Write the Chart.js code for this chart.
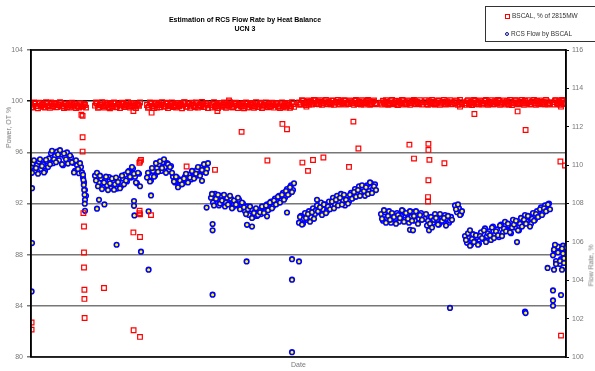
<!DOCTYPE html>
<html lang="en">
<head>
<meta charset="UTF-8">
<title>Estimation of RCS Flow Rate by Heat Balance</title>
<script src="https://cdn.jsdelivr.net/npm/chart.js"></script>
<style>
  body { margin: 0; background: #fff; font-family: "Liberation Sans", Arial, sans-serif; }
  #wrap { position: relative; width: 595px; height: 371px; overflow: hidden; }
  #title { position: absolute; left: 145px; top: 15px; width: 200px; text-align: center;
           font-size: 7px; font-weight: bold; line-height: 9px; color: #000; }
  #legend { position: absolute; left: 485px; top: 6px; width: 120px; height: 34px;
            border: 1px solid #333; font-size: 6.5px; color: #333; }
  .item { position: absolute; left: 19px; white-space: nowrap; }
  .sq { display: inline-block; width: 3px; height: 3px; border: 1px solid #f00; vertical-align: middle; margin-right: 2px; }
  .dot { display: inline-block; width: 2px; height: 2px; border: 1px solid #00f; border-radius: 50%;
         background: #ff0; vertical-align: middle; margin-right: 2px; }
  .axt { position: absolute; font-size: 7px; color: #777; white-space: nowrap; }
</style>
</head>
<body>
<div id="wrap">
  <canvas id="flowChart" width="595" height="371"></canvas>
  <div id="title">Estimation of RCS Flow Rate by Heat Balance<br>UCN 3</div>
  <div id="legend">
    <div class="item" style="top:5px"><span class="sq"></span>BSCAL, % of 2815MW</div>
    <div class="item" style="top:23px"><span class="dot"></span>RCS Flow by BSCAL</div>
  </div>
  <div class="axt" style="left:-12px; top:124px; transform: rotate(-90deg);">Power, OT %</div>
  <div class="axt" style="left:570px; top:262px; transform: rotate(-90deg);">Flow Rate, %</div>
  <div class="axt" style="left:291px; top:361px;">Date</div>
</div>

<script>
// each run = consecutive days of plant operation, starting at runStart[i]
// two readings a day: "A" at the day, "B" half a day later
const runStart = [0, 32, 58, 90, 134, 175, 197, 212, 217, 261];

// BSCAL thermal power, % of 2815MW (left axis)
const bscalRunsA = [
  [99.72, 99.55, 99.8, 99.63, 99.88, 99.58, 99.75, 99.5, 99.82, 99.67, 99.9, 99.6, 99.78, 99.53, 99.7, 99.85, 99.62, 99.76, 99.52, 99.83, 99.68, 99.58, 99.8, 99.65, 99.5, 99.74, 99.6, 99.7],
  [99.65, 99.82, 99.55, 99.74, 99.6, 99.88, 99.7, 99.52, 99.78, 99.63, 99.85, 99.57, 99.72, 99.66, 99.8, 99.54, 99.75, 99.62, 99.86, 99.68, 99.58, 99.77, 99.64],
  [99.7, 99.55, 99.82, 99.6, 99.76, 99.5, 99.85, 99.67, 99.73, 99.58, 99.88, 99.62, 99.78, 99.54, 99.7, 99.84, 99.6, 99.75, 99.66, 99.9, 99.57, 99.8, 99.64, 99.72, 99.52, 99.86, 99.69, 99.6, 99.78, 99.65, 99.74],
  [99.68, 99.8, 99.56, 99.74, 99.62, 99.87, 99.7, 99.58, 99.83, 99.65, 99.76, 99.52, 99.8, 99.67, 99.72, 99.6, 99.85, 99.63, 99.78, 99.55, 99.7, 99.82, 99.6, 99.75, 99.66, 99.88, 99.58, 99.73, 99.64, 99.8, 99.57, 99.77, 99.68, 99.84, 99.61, 99.74, 99.56, 99.8, 99.66, 99.72, 99.6, 99.78],
  [99.9, 99.78, 100.02, 99.85, 99.95, 99.74, 99.98, 99.82, 100.05, 99.88, 99.76, 99.96, 99.84, 100.0, 99.8, 99.93, 99.75, 100.03, 99.87, 99.92, 99.79, 99.99, 99.83, 100.04, 99.89, 99.77, 99.97, 99.86, 100.01, 99.81, 99.94, 99.73, 99.98, 99.85, 100.02, 99.9, 99.78, 99.96, 99.84],
  [99.88, 100.03, 99.8, 99.95, 99.76, 100.0, 99.86, 99.92, 99.74, 99.98, 99.83, 100.05, 99.9, 99.79, 99.97, 99.85, 100.01, 99.82, 99.94, 99.77, 99.9],
  [99.92, 99.78, 100.0, 99.85, 99.96, 99.74, 99.9, 100.03, 99.82, 99.95, 99.8, 99.98, 99.87, 99.93],
  [99.85, 99.98, 99.8, 99.92],
  [99.86, 100.0, 99.78, 99.93, 99.82, 100.04, 99.9, 99.75, 99.97, 99.84, 100.01, 99.8, 99.94, 99.88, 99.76, 99.99, 99.85, 100.03, 99.79, 99.92, 99.87, 100.0, 99.74, 99.95, 99.83, 100.05, 99.89, 99.78, 99.96, 99.82, 100.02, 99.86, 99.91, 99.77, 99.98, 99.84, 100.01, 99.8, 99.94, 99.88, 99.75, 99.97, 99.85],
  [99.92, 100.05, 99.82, 99.98, 99.87, 100.02, 99.9]
];
const bscalRunsB = [
  [99.5, 99.9, 99.62, 99.45, 99.84, 99.7, 99.55, 99.92, 99.6, 99.48, 99.78, 99.86, 99.52, 99.68, 99.93, 99.57, 99.47, 99.8, 99.66, 99.5, 99.89, 99.74, 99.46, 99.6, 99.85, 99.55, 99.8, 99.5],
  [99.9, 99.48, 99.7, 99.92, 99.5, 99.66, 99.86, 99.45, 99.6, 99.9, 99.52, 99.8, 99.47, 99.88, 99.58, 99.7, 99.93, 99.5, 99.62, 99.85, 99.46, 99.72, 99.9],
  [99.48, 99.9, 99.64, 99.46, 99.88, 99.7, 99.52, 99.92, 99.58, 99.8, 99.47, 99.68, 99.9, 99.6, 99.5, 99.86, 99.72, 99.45, 99.92, 99.56, 99.78, 99.48, 99.88, 99.62, 99.9, 99.5, 99.7, 99.94, 99.53, 99.84, 99.47],
  [99.5, 99.92, 99.62, 99.46, 99.86, 99.55, 99.9, 99.48, 99.7, 99.93, 99.52, 99.64, 99.88, 99.47, 99.8, 99.58, 99.45, 99.9, 99.5, 99.86, 99.6, 99.48, 99.92, 99.54, 99.82, 99.46, 99.7, 99.9, 99.52, 99.62, 99.88, 99.49, 99.84, 99.56, 99.46, 99.9, 99.62, 99.5, 99.86, 99.48, 99.92, 99.55],
  [99.72, 100.08, 99.8, 99.7, 100.06, 99.9, 99.74, 100.1, 99.78, 99.98, 100.07, 99.72, 99.9, 100.09, 99.76, 99.84, 100.06, 99.71, 99.96, 100.1, 99.74, 99.88, 100.08, 99.73, 99.8, 100.06, 99.9, 99.72, 100.09, 99.78, 99.86, 100.07, 99.74, 99.92, 100.1, 99.71, 99.82, 100.06, 99.76],
  [99.74, 99.9, 100.08, 99.72, 99.86, 100.1, 99.76, 100.04, 99.7, 99.88, 100.09, 99.74, 99.8, 100.06, 99.72, 99.94, 100.1, 99.75, 99.84, 100.07, 99.73],
  [100.08, 99.72, 99.88, 100.1, 99.75, 99.84, 100.06, 99.71, 99.9, 100.09, 99.74, 99.82, 100.07, 99.76],
  [100.06, 99.72, 100.09, 99.75],
  [99.72, 100.08, 99.84, 99.7, 100.1, 99.76, 99.9, 100.06, 99.73, 99.86, 100.09, 99.71, 99.82, 100.07, 99.75, 99.92, 100.1, 99.72, 99.88, 100.06, 99.74, 99.8, 100.09, 99.7, 99.9, 100.08, 99.76, 99.84, 100.1, 99.72, 99.86, 100.07, 99.74, 99.94, 100.09, 99.71, 99.82, 100.06, 99.76, 99.9, 100.1, 99.73, 99.8],
  [99.74, 100.08, 99.8, 99.72, 100.1, 99.78, 99.86]
];

// RCS flow by BSCAL, % (right axis)
const flowRunsA = [
  [109.9, 110.1, 109.72, 110.0, 110.18, 109.8, 110.05, 109.7, 110.2, 110.35, 110.62, 110.1, 110.48, 110.7, 110.25, 110.55, 110.0, 110.42, 110.66, 110.18, 110.4, 110.12, 109.7, 110.0, 109.58, 109.9, 109.35, 108.7],
  [109.45, 109.6, 109.1, 109.3, 108.85, 109.2, 108.95, 109.38, 108.8, 109.15, 109.0, 108.78, 109.25, 108.9, 109.3, 109.5, 109.15, 109.7, 109.35, 109.82, 109.4, 109.05, 109.55],
  [109.35, 109.6, 109.2, 109.7, 109.45, 109.85, 110.05, 109.7, 110.15, 109.9, 110.1, 109.75, 109.95, 109.4, 109.1, 109.35, 108.95, 109.25, 109.05, 109.4, 109.15, 109.5, 109.25, 109.62, 109.38, 109.75, 109.5, 109.88, 109.65, 110.0, 109.8],
  [108.3, 108.05, 108.5, 108.2, 107.9, 108.4, 108.1, 107.85, 108.3, 108.0, 108.25, 107.8, 108.1, 107.9, 108.2, 107.75, 108.0, 107.6, 107.85, 107.4, 107.7, 107.3, 107.55, 107.35, 107.65, 107.45, 107.8, 107.6, 107.95, 107.7, 108.1, 107.85, 108.25, 108.0, 108.4, 108.15, 108.55, 108.3, 108.75, 108.5, 108.95, 108.7],
  [107.0, 107.35, 106.95, 107.5, 107.15, 107.6, 107.3, 107.75, 107.45, 107.9, 107.55, 108.05, 107.7, 107.95, 107.6, 108.1, 107.85, 108.3, 107.95, 108.4, 108.05, 108.5, 108.15, 107.9, 108.35, 108.1, 108.55, 108.3, 108.75, 108.45, 108.9, 108.55, 108.8, 108.4, 108.95, 108.65, 109.05, 108.75, 109.0],
  [107.45, 107.1, 107.55, 107.25, 107.6, 107.0, 107.4, 107.2, 107.5, 107.05, 107.35, 107.6, 107.15, 107.45, 107.0, 107.3, 107.55, 107.1, 107.4, 107.2, 107.5],
  [107.2, 106.85, 106.6, 107.3, 107.0, 107.45, 107.15, 106.9, 107.35, 107.05, 107.4, 107.2, 107.0, 107.3],
  [107.9, 107.55, 107.75, 107.45],
  [106.3, 105.95, 106.2, 105.85, 106.4, 106.05, 106.25, 105.9, 106.5, 106.15, 106.7, 106.3, 106.55, 106.1, 106.8, 106.4, 106.65, 106.25, 106.9, 106.5, 107.05, 106.6, 106.85, 106.45, 107.15, 106.75, 107.0, 106.6, 107.25, 106.9, 107.4, 107.05, 107.3, 106.95, 107.5, 107.15, 107.6, 107.35, 107.8, 107.5, 107.9, 107.65, 108.0],
  [105.3, 105.7, 104.95, 105.5, 105.1, 105.8, 105.25]
];
const flowRunsB = [
  [109.6, 110.25, 109.85, 109.55, 110.3, 109.95, 109.62, 110.28, 109.9, 110.05, 110.75, 110.3, 110.15, 110.55, 110.78, 110.05, 110.6, 110.3, 110.08, 110.5, 110.15, 109.62, 110.25, 109.8, 110.1, 109.62, 109.1, 108.4],
  [109.2, 108.9, 109.45, 108.75, 109.1, 109.4, 108.7, 109.05, 109.3, 108.72, 109.35, 109.12, 108.8, 109.45, 109.0, 109.2, 109.65, 109.4, 109.9, 109.55, 109.1, 109.6, 108.9],
  [109.6, 109.15, 109.85, 109.4, 110.1, 109.65, 110.2, 109.85, 110.3, 109.6, 110.05, 109.9, 109.6, 109.15, 109.4, 108.85, 109.2, 109.0, 109.3, 109.55, 109.1, 109.35, 109.7, 109.3, 109.55, 109.9, 109.45, 109.75, 110.05, 109.6, 110.1],
  [108.5, 107.9, 108.25, 108.45, 108.0, 108.15, 108.45, 108.05, 107.95, 108.4, 107.75, 108.15, 107.95, 108.3, 107.7, 108.05, 107.8, 107.45, 107.7, 107.85, 107.25, 107.5, 107.75, 107.4, 107.55, 107.85, 107.5, 107.9, 107.65, 108.05, 107.75, 108.15, 107.95, 108.35, 108.05, 108.45, 108.2, 108.65, 108.45, 108.85, 108.6, 109.05],
  [107.3, 106.9, 107.2, 107.25, 107.45, 107.05, 107.55, 107.2, 107.65, 107.6, 107.8, 107.4, 107.95, 107.5, 107.85, 107.7, 108.1, 107.75, 108.2, 107.9, 108.3, 107.95, 108.45, 108.2, 108.0, 108.45, 108.25, 108.6, 108.35, 108.7, 108.4, 108.95, 108.65, 108.85, 108.5, 109.1, 108.55, 108.9, 108.7],
  [107.2, 107.65, 107.0, 107.35, 107.15, 107.5, 107.3, 106.95, 107.4, 107.25, 107.65, 107.05, 107.5, 107.2, 107.6, 107.1, 107.35, 107.6, 106.95, 107.4, 107.15],
  [107.45, 107.1, 106.95, 106.75, 107.15, 107.25, 106.9, 107.45, 107.1, 107.25, 106.85, 107.35, 107.1, 107.15],
  [107.7, 107.95, 107.4, 107.6],
  [106.1, 106.45, 105.8, 106.15, 106.0, 106.35, 105.85, 106.3, 106.2, 106.6, 106.0, 106.45, 106.35, 106.75, 106.2, 106.55, 106.35, 106.85, 106.3, 106.7, 106.55, 106.95, 106.5, 106.75, 106.9, 107.1, 106.6, 106.95, 106.8, 107.15, 106.95, 107.35, 106.8, 107.2, 107.1, 107.45, 107.3, 107.7, 107.4, 107.75, 107.6, 107.95, 107.7],
  [105.55, 105.0, 105.75, 104.85, 105.6, 105.15, 105.7]
];

// scattered readings (start-ups, shutdowns, odd days)
const bscalOddDay = [0.3, 0.3, 25.2, 25.8, 25.8, 25.8, 26.2, 26.5, 26.5, 26.5, 26.7, 26.7, 26.8, 36.5, 51.2, 51.2, 51.3,
  54.2, 54.3, 54.5, 54.5, 54.5, 54.2, 54.5, 55, 60, 60.3, 77.8, 92, 93.2, 99, 105.3, 118.2, 125.7, 128, 135.7, 137.7,
  138.5, 141, 146.2, 159, 161.2, 163.7, 189.2, 191.5, 198.5, 198.5, 198.7, 198.7, 198.7, 199.2, 206.7, 214.5, 221.7,
  243.3, 247.3, 264.7, 265, 265, 267];
const bscalOddVal = [82.7, 82.14, 98.94, 98.85, 97.18, 96.06, 91.25, 90.2, 88.17, 87.0, 85.26, 84.54, 83.05, 85.39, 89.74, 99.23, 82.09,
  91.25, 91.43, 91.15, 89.38, 81.57, 95.18, 95.28, 95.41, 91.09, 99.1, 94.89, 94.63, 99.23, 100.05, 97.6, 95.36, 98.22, 97.8, 95.2, 99.57,
  94.55, 95.4, 95.6, 94.86, 98.4, 96.3, 96.6, 95.51, 92.5, 92.16, 93.82, 96.19, 96.66, 95.41, 95.15, 99.57, 99.0,
  99.2, 97.75, 95.28, 99.57, 81.67, 94.97];

const flowOddDay = [0.5, 0.5, 0.3, 26, 26.2, 26.4, 26.6, 26.8, 27, 26.9, 27, 33, 34, 36.7, 42.8, 51.5, 51.5, 51.7, 55, 58.8,
  58.8, 60, 85.5, 87.8, 90.8, 90.8, 90.8, 107.8, 108, 110.5, 118, 128, 130.5, 130.5, 130.5, 134, 143, 189.5, 191, 209.5,
  219.5, 243, 247, 247.3, 258.3, 261, 261, 261, 261.5, 265, 265.5, 261.5, 262.5, 263.5, 264.5, 265.5, 266.5, 262, 266];
const flowOddVal = [108.8, 105.94, 103.42, 109.5, 109.23, 108.97, 108.71, 108.45, 108.19, 107.99, 107.62, 107.73, 108.19, 107.95, 105.85, 108.13, 107.88, 107.38, 105.49, 107.59,
  104.55, 108.42, 109.18, 107.79, 106.93, 106.6, 103.25, 104.98, 106.89, 106.8, 107.33, 107.53, 105.1, 104.03, 100.25, 104.98, 108.19, 106.63, 106.6, 102.56,
  106.6, 105.99, 102.36, 102.29, 104.64, 103.47, 102.95, 102.67, 104.55, 103.23, 104.55, 105.6, 104.85, 105.45, 105.0, 105.65, 104.9, 105.85, 105.4];

const powerTicks = [80, 84, 88, 92, 96, 100, 104];
const flowTicks = [100, 102, 104, 106, 108, 110, 112, 114, 116];

function toPoints(runsA, runsB, oddDay, oddVal) {
  const pts = [];
  runsA.forEach((run, i) => run.forEach((v, j) => pts.push({ x: runStart[i] + j, y: v })));
  runsB.forEach((run, i) => run.forEach((v, j) => pts.push({ x: runStart[i] + j + 0.5, y: v })));
  oddDay.forEach((d, k) => pts.push({ x: d, y: oddVal[k] }));
  return pts;
}

// frame round the plot area, like the spreadsheet chart
const framePlugin = {
  id: 'frame',
  afterDatasetsDraw(chart) {
    const a = chart.chartArea, g = chart.ctx;
    g.save();
    g.strokeStyle = '#000';
    g.lineWidth = 1.5;
    g.strokeRect(a.left, a.top, a.right - a.left, a.bottom - a.top);
    g.restore();
  }
};

const ctx = document.getElementById('flowChart').getContext('2d');
new Chart(ctx, {
  type: 'scatter',
  data: {
    datasets: [{
      label: 'BSCAL, % of 2815MW',
      data: toPoints(bscalRunsA, bscalRunsB, bscalOddDay, bscalOddVal),
      yAxisID: 'yPower',
      pointStyle: 'rect',
      pointRadius: 3.3,
      borderWidth: 1.2,
      borderColor: '#ff0000',
      backgroundColor: 'rgba(255,255,255,0)'
    }, {
      label: 'RCS Flow by BSCAL',
      data: toPoints(flowRunsA, flowRunsB, flowOddDay, flowOddVal),
      yAxisID: 'yFlow',
      pointStyle: 'circle',
      pointRadius: 2.3,
      borderWidth: 1.6,
      borderColor: '#0000ff',
      backgroundColor: '#ffff00'
    }]
  },
  options: {
    responsive: false,
    animation: false,
    devicePixelRatio: 1,
    layout: { padding: { top: 50, bottom: 14, left: 0, right: 0 } },
    plugins: { legend: { display: false }, tooltip: { enabled: false } },
    scales: {
      x: { type: 'linear', min: 0, max: 267.5, display: false },
      yPower: {
        position: 'left', min: 80, max: 104,
        afterBuildTicks: s => { s.ticks = powerTicks.map(v => ({ value: v })); },
        ticks: { color: '#777', font: { family: 'Liberation Sans', size: 7 }, padding: 4 },
        grid: {
          color: c => (c.tick && c.tick.value === 100) ? '#111' : '#777',
          lineWidth: 1.5, tickLength: 4
        },
        border: { color: '#000', width: 1.5 },
        afterFit: s => { s.width = 31; }
      },
      yFlow: {
        position: 'right', min: 100, max: 116,
        afterBuildTicks: s => { s.ticks = flowTicks.map(v => ({ value: v })); },
        ticks: { color: '#777', font: { family: 'Liberation Sans', size: 7 }, padding: 3 },
        grid: { drawOnChartArea: false, color: '#000', tickLength: 3 },
        border: { color: '#000', width: 1.5 },
        afterFit: s => { s.width = 29; }
      }
    }
  },
  plugins: [framePlugin]
});
</script>
</body>
</html>
